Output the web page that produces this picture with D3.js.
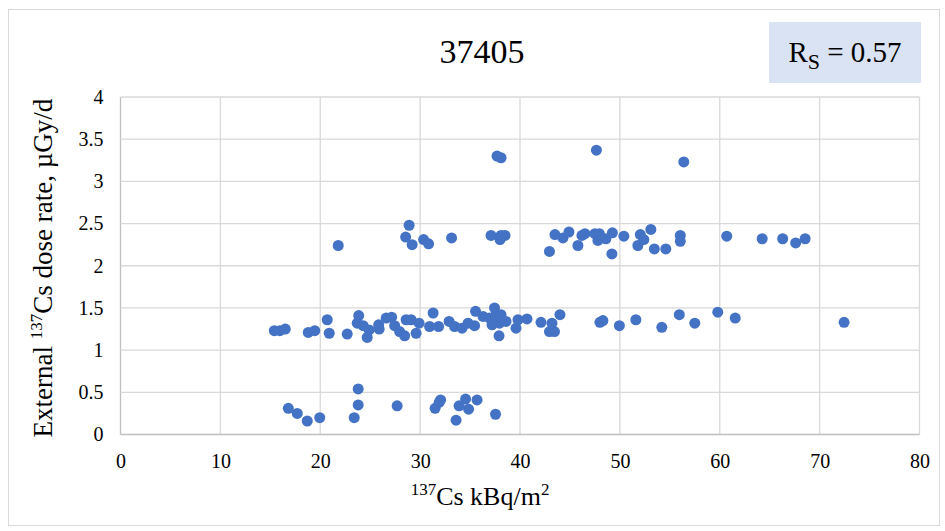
<!DOCTYPE html>
<html>
<head>
<meta charset="utf-8">
<script src="https://cdn.jsdelivr.net/npm/d3@7"></script>
<style>
  body { margin: 0; background: #fff; }
</style>
</head>
<body>
<div id="chart"></div>
<script>
// values: [kBq/m2, µGy/d]
const highPoints = [[37.7, 3.30], [38.1, 3.28], [47.65, 3.37], [56.4, 3.23]];

const upperBand = [
	[21.8, 2.24], [28.55, 2.34], [28.9, 2.48], [29.2, 2.25], [30.35, 2.31], [30.85, 2.26], [33.15, 2.33],
	[37.1, 2.36], [38.0, 2.31], [38.5, 2.36], [38.1, 2.36], [42.95, 2.17], [43.5, 2.37], [44.3, 2.33],
	[44.9, 2.40], [45.8, 2.24], [46.2, 2.36], [46.5, 2.38], [47.5, 2.38], [47.95, 2.38], [47.8, 2.30],
	[48.6, 2.32], [49.25, 2.39], [49.2, 2.14], [50.4, 2.35], [51.8, 2.24], [52.05, 2.37], [52.4, 2.31],
	[53.1, 2.43], [53.45, 2.20], [54.6, 2.20], [56.05, 2.36], [56.05, 2.29], [60.7, 2.35], [64.25, 2.32],
	[66.3, 2.32], [67.6, 2.27], [68.55, 2.32]
];

const middleBand = [
	[15.4, 1.23], [15.95, 1.23], [16.5, 1.25], [18.8, 1.21], [19.45, 1.23], [20.7, 1.36], [20.9, 1.20],
	[22.7, 1.19], [23.85, 1.41], [23.7, 1.32], [24.3, 1.29], [24.7, 1.15], [24.9, 1.24], [25.85, 1.30],
	[25.9, 1.25], [26.6, 1.38], [27.15, 1.39], [27.45, 1.29], [27.95, 1.22], [28.45, 1.17], [28.6, 1.36],
	[29.1, 1.36], [29.6, 1.20], [29.9, 1.32], [30.95, 1.28], [31.3, 1.44], [31.85, 1.28], [32.9, 1.34],
	[33.45, 1.28], [34.2, 1.26], [34.8, 1.32], [35.45, 1.29], [35.55, 1.46], [36.3, 1.40], [36.95, 1.38],
	[37.45, 1.50], [37.6, 1.42], [38.1, 1.42], [37.2, 1.30], [37.95, 1.32], [38.6, 1.34], [37.9, 1.17],
	[39.6, 1.26], [39.8, 1.36], [40.7, 1.37], [42.1, 1.33], [42.95, 1.22], [43.45, 1.22], [43.2, 1.32],
	[44.0, 1.42], [48.0, 1.33], [48.3, 1.35], [49.95, 1.29], [51.6, 1.36], [54.2, 1.27], [55.95, 1.42],
	[57.5, 1.32], [59.8, 1.45], [61.55, 1.38], [72.45, 1.33]
];

const lowBand = [
	[16.8, 0.31], [17.7, 0.25], [18.7, 0.16], [19.95, 0.20], [23.4, 0.20], [23.8, 0.54], [23.8, 0.35],
	[27.7, 0.34], [31.5, 0.31], [31.9, 0.38], [32.05, 0.41], [33.6, 0.17], [33.9, 0.34], [34.55, 0.42],
	[34.85, 0.30], [35.7, 0.41], [37.55, 0.24]
];

const xTicks = [0, 10, 20, 30, 40, 50, 60, 70, 80];
const yTicks = [0, 0.5, 1, 1.5, 2, 2.5, 3, 3.5, 4];
const chartTitle = "37405";
const rsValue = "0.57";

const serif = "'Liberation Serif', 'Times New Roman', serif";
const width = 945, height = 531;
const plot = { left: 120.5, right: 919.5, top: 97, bottom: 434.5 };

const svg = d3.select("#chart").append("svg")
	.attr("width", width)
	.attr("height", height)
	.attr("font-family", serif);

// chart frame
svg.append("rect")
	.attr("x", 8.5).attr("y", 9.5)
	.attr("width", 931).attr("height", 516)
	.attr("fill", "#fff")
	.attr("stroke", "#d9d9d9");

const x = d3.scaleLinear().domain([0, 80]).range([plot.left, plot.right]);
const y = d3.scaleLinear().domain([0, 4]).range([plot.bottom, plot.top]);

// gridlines
const grid = svg.append("g");
grid.selectAll("line.v").data(xTicks).join("line")
	.attr("x1", d => x(d)).attr("x2", d => x(d))
	.attr("y1", plot.top).attr("y2", plot.bottom)
	.attr("stroke", d => d === 0 ? "#bfbfbf" : "#d9d9d9")
	.attr("stroke-width", 1.3);
grid.selectAll("line.h").data(yTicks).join("line")
	.attr("y1", d => y(d)).attr("y2", d => y(d))
	.attr("x1", plot.left).attr("x2", plot.right)
	.attr("stroke", d => d === 0 ? "#bfbfbf" : "#d9d9d9")
	.attr("stroke-width", 1.3);

// axes, used only for the labels
const xAxis = svg.append("g")
	.attr("transform", `translate(0,${plot.bottom})`)
	.call(d3.axisBottom(x).tickValues(xTicks).tickSize(0).tickPadding(19).tickFormat(d3.format("d")));
const yAxis = svg.append("g")
	.attr("transform", `translate(${plot.left},0)`)
	.call(d3.axisLeft(y).tickValues(yTicks).tickSize(0).tickPadding(17).tickFormat(d => String(d)));
[xAxis, yAxis].forEach(g => {
	g.attr("font-family", serif).attr("font-size", 20);
	g.select(".domain").remove();
	g.selectAll("text").attr("fill", "#000");
});

// points
const allPoints = [...lowBand, ...middleBand, ...upperBand, ...highPoints];
svg.append("g").selectAll("circle").data(allPoints).join("circle")
	.attr("cx", d => x(d[0]))
	.attr("cy", d => y(d[1]))
	.attr("r", 5.5)
	.attr("fill", "#4472c4");

// title
svg.append("text")
	.attr("x", 482).attr("y", 63)
	.attr("text-anchor", "middle")
	.attr("font-size", 34)
	.text(chartTitle);

// Rs box
svg.append("rect")
	.attr("x", 769).attr("y", 22)
	.attr("width", 152).attr("height", 61)
	.attr("fill", "#dae3f3");
const rs = svg.append("text")
	.attr("x", 845).attr("y", 62)
	.attr("text-anchor", "middle")
	.attr("font-size", 29);
rs.append("tspan").text("R");
rs.append("tspan").attr("font-size", 22).attr("dy", 7).text("S");
rs.append("tspan").attr("dy", -7).text(" = " + rsValue);

// x title
const xt = svg.append("text")
	.attr("x", 480).attr("y", 505)
	.attr("text-anchor", "middle")
	.attr("font-size", 26);
xt.append("tspan").attr("font-size", 17).attr("dy", -10).text("137");
xt.append("tspan").attr("dy", 10).text("Cs kBq/m");
xt.append("tspan").attr("font-size", 17).attr("dy", -10).text("2");

// y title
const yt = svg.append("text")
	.attr("transform", "translate(52,268) rotate(-90)")
	.attr("text-anchor", "middle")
	.attr("font-size", 27);
yt.append("tspan").text("External ");
yt.append("tspan").attr("font-size", 17).attr("dy", -10).text("137");
yt.append("tspan").attr("dy", 10).text("Cs dose rate, µGy/d");
</script>
</body>
</html>
